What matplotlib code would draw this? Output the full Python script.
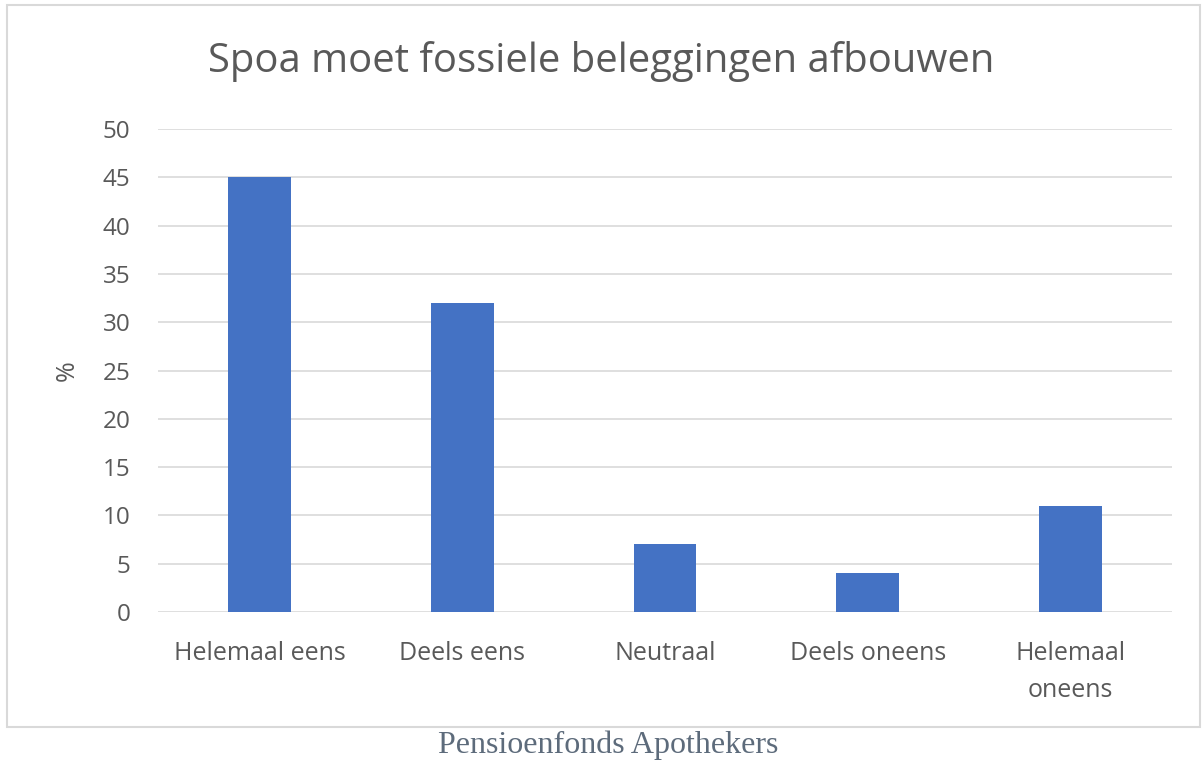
import matplotlib.pyplot as plt
import matplotlib.patches as patches
import numpy as np

categories = ["Helemaal eens", "Deels eens", "Neutraal", "Deels oneens", "Helemaal\noneens"]
values = [45, 32, 7, 4, 11]
yticks = [0, 5, 10, 15, 20, 25, 30, 35, 40, 45, 50]

plt.rcParams['font.family'] = ['Open Sans', 'DejaVu Sans']
grey = '#595959'

fig = plt.figure(figsize=(12.03, 7.62), dpi=100)

# light outer frame like an Excel chart box
frame = patches.Rectangle((7/1203, 1-727/762), 1193/1203, 722/762, transform=fig.transFigure,
                          fill=False, edgecolor='#d9d9d9', linewidth=1.5)
fig.patches.append(frame)

ax = fig.add_axes([158/1203, 1-612/762, 1014/1203, 483/762])
x = np.arange(len(categories))
ax.bar(x, values, width=0.31, color='#4472C4', zorder=3)

ax.set_xlim(-0.5, len(categories)-0.5)
ax.set_ylim(0, 50)
ax.set_yticks(yticks)
ax.yaxis.grid(True, color='#d9d9d9', linewidth=1.2, zorder=0)
for s in ax.spines.values():
    s.set_visible(False)
ax.tick_params(length=0)
ax.set_xticks(x)
ax.set_xticklabels(categories, fontsize=18, color=grey, linespacing=1.6)
ax.tick_params(axis='x', pad=21)
ax.tick_params(axis='y', pad=20, labelsize=17.5, labelcolor=grey)
ax.set_ylabel("%", fontsize=18, color=grey, labelpad=16)

fig.text(601/1203, 1-62/762, "Spoa moet fossiele beleggingen afbouwen", fontsize=28.8,
         color=grey, ha='center', va='center')
fig.text(608/1203, 1-745/762, "Pensioenfonds Apothekers", fontsize=23,
         family='Liberation Serif', color='#5d6b7b', ha='center', va='center')

plt.savefig("out.png", dpi=100)
